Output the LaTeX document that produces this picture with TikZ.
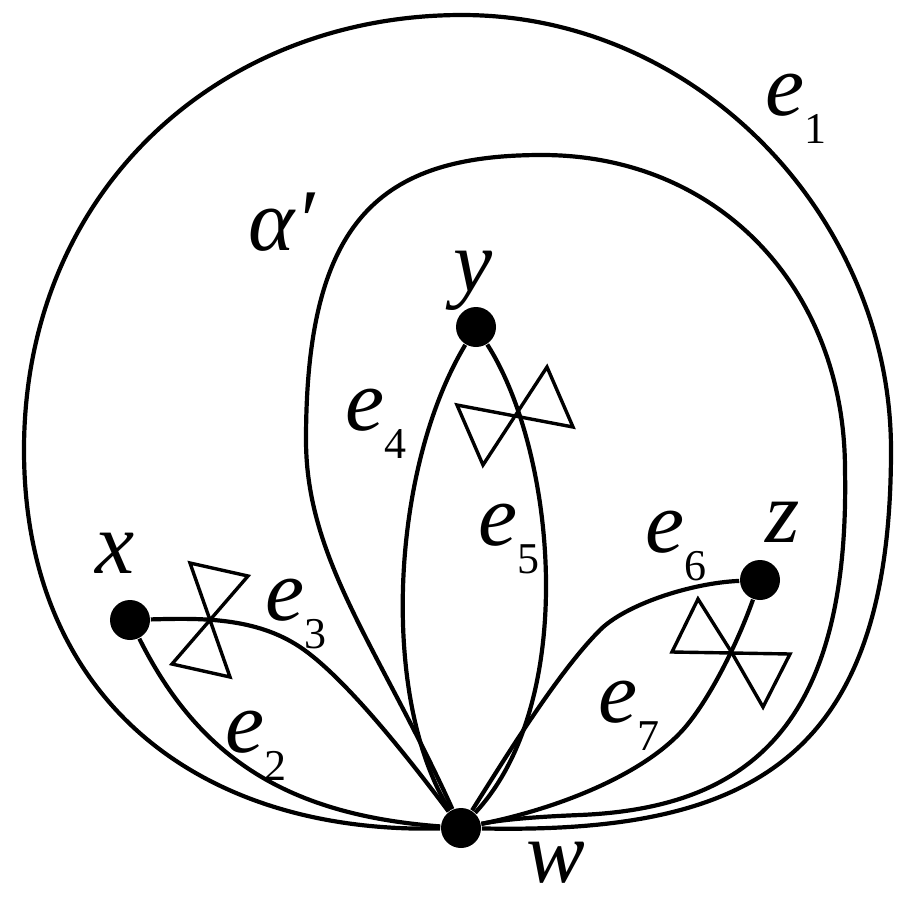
\documentclass[tikz,border=0pt]{standalone}
\usepackage{fontspec}
\setmainfont{LiberationSerif}[Extension=.ttf, UprightFont=*-Regular, ItalicFont=*-Italic, BoldFont=*-Bold, BoldItalicFont=*-BoldItalic]
\newcommand\subidx[1]{\raisebox{-7pt}{\fontsize{11}{11}\selectfont\upshape #1}}
\begin{document}
\begin{tikzpicture}[x=0.25pt,y=-0.25pt,
  edge/.style={line width=1.05pt},
  bow/.style={line width=0.85pt, line join=miter},
  vtx/.style={circle, fill=black, inner sep=0pt, minimum size=10pt},
  lbl/.style={inner sep=0pt, anchor=base west, font=\fontsize{22}{22}\selectfont\itshape},
]
\useasboundingbox (0,0) rectangle (900,900);

% vertices
\node[vtx] (w) at (461,828) {};
\node[vtx] (x) at (130,620) {};
\node[vtx] (y) at (476,327) {};
\node[vtx] (z) at (760,580) {};

% e1
\draw[edge] (w) .. controls (200,834) and (24,700) .. (24,450)
  .. controls (24,190) and (220,15) .. (462,15)
  .. controls (700,15) and (891,220) .. (891,450)
  .. controls (891,760) and (750,834) .. (w);

% alpha'
\draw[edge] (w) .. controls (380,650) and (306,560) .. (306,440)
  .. controls (306,220) and (380,155) .. (542,155)
  .. controls (720,155) and (845,290) .. (845,470)
  .. controls (850,730) and (745,808) .. (580,815)
  .. controls (530,817) and (500,820) .. (w);

% e2, e3
\draw[edge] (x) .. controls (200,760) and (290,815) .. (w);
\draw[edge] (x) .. controls (200,618) and (255,617) .. (300,647)
  .. controls (345,677) and (410,760) .. (w);

% e4, e5
\draw[edge] (y) .. controls (390,470) and (380,700) .. (w);
\draw[edge] (y) .. controls (555,450) and (580,700) .. (w);

% e6, e7
\draw[edge] (z) .. controls (690,583) and (625,605) .. (600,630)
  .. controls (560,670) and (510,750) .. (w);
\draw[edge] (z) .. controls (735,650) and (705,707) .. (680,733)
  .. controls (640,775) and (560,808) .. (w);

% bowties
\draw[bow] (210,620) -- (190,563) -- (248,576) -- cycle;
\draw[bow] (210,620) -- (230,677) -- (172,664) -- cycle;
\draw[bow] (515,416) -- (457,405) -- (483,465) -- cycle;
\draw[bow] (515,416) -- (573,427) -- (547,367) -- cycle;
\draw[bow] (732,653) -- (672,652) -- (698,599) -- cycle;
\draw[bow] (732,653) -- (790,654) -- (763,707) -- cycle;

% labels
\node[lbl] (le1) at (765,115) {e\subidx{1}};
\node[lbl] (lal) at (248,250) {α′};
\node[lbl] (ly) at (453,291) {y};
\node[lbl] (le4) at (345,430) {e\subidx{4}};
\node[lbl] (le5) at (478,545) {e\subidx{5}};
\node[lbl] (lx) at (95,573) {x};
\node[lbl] (le3) at (265,620) {e\subidx{3}};
\node[lbl] (le2) at (225,752) {e\subidx{2}};
\node[lbl] (le6) at (645,552) {e\subidx{6}};
\node[lbl] (lz) at (765,542) {z};
\node[lbl] (le7) at (598,722) {e\subidx{7}};
\node[lbl] (lw) at (526,882) {w};
\end{tikzpicture}
\end{document}
